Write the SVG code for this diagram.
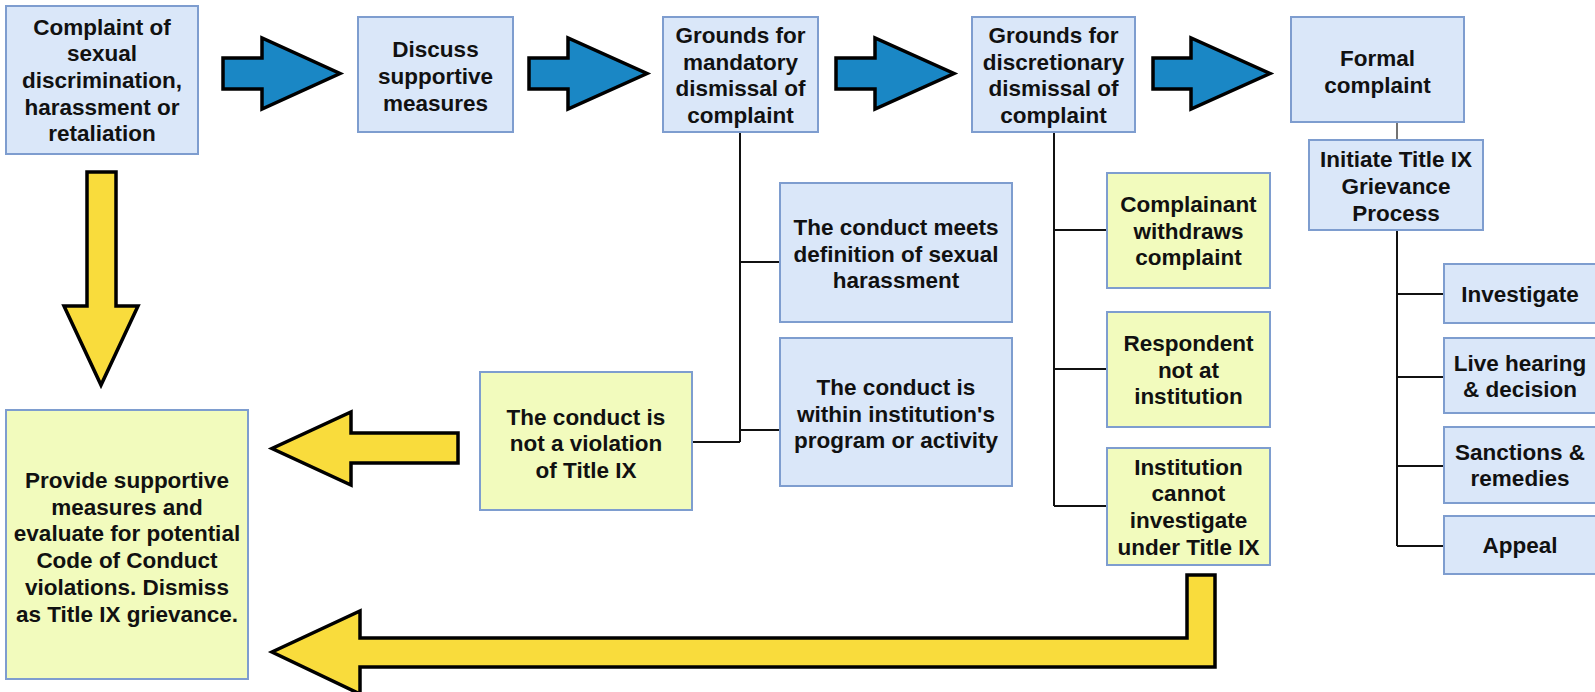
<svg xmlns="http://www.w3.org/2000/svg" width="1595" height="692" viewBox="0 0 1595 692">
<style>
.bg{fill:#ffffff}
.blue{fill:#dae7f9;stroke:#7e9dcf;stroke-width:2}
.yel{fill:#f2fbbd;stroke:#7e9dcf;stroke-width:2}
.t{font-family:"Liberation Sans",Arial,sans-serif;font-weight:bold;font-size:22.5px;fill:#111;text-anchor:middle}
.ln{stroke:#111;stroke-width:2;fill:none}
.ab{fill:#1a87c5;stroke:#000;stroke-width:3.5;stroke-linejoin:miter}
.ay{fill:#f9dc3c;stroke:#000;stroke-width:3.5;stroke-linejoin:miter}
</style>
<rect class="bg" x="0" y="0" width="1595" height="692"/>

<g id="connectors">
<path class="ln" d="M740,132 V442 M740,262 H780 M740,430 H780 M740,442 H692"/>
<path class="ln" d="M1054,133 V506 M1054,230 H1107 M1054,369 H1107 M1054,506 H1107"/>
<path class="ln" d="M1397,122 V140" style="stroke:#444;stroke-width:1.5"/>
<path class="ln" d="M1397,230 V546 M1397,294 H1444 M1397,377 H1444 M1397,466 H1444 M1397,546 H1444"/>
<path class="ab" d="M223,58 H262 V38 L340,73.5 L262,109 V89 H223 Z"/>
<path class="ab" d="M529,58 H568 V38 L647,73.5 L568,109 V89 H529 Z"/>
<path class="ab" d="M836,58 H875 V38 L954,73.5 L875,109 V89 H836 Z"/>
<path class="ab" d="M1153,58 H1191 V38 L1270,73.5 L1191,109 V89 H1153 Z"/>
<path class="ay" d="M87,172 H116 V306 H138 L101,385 L64,306 H87 Z"/>
<path class="ay" d="M458,433 V463 H351 V485 L272,448.5 L351,412 V433 Z"/>
<path class="ay" d="M1187,575 H1215 V667 H360 V694 L272,652 L360,611 V638 H1187 Z"/>
</g>

<g id="n-complaint"><rect class="blue" x="6" y="6" width="192" height="148"/>
<text class="t" x="102"><tspan x="102" y="34.6">Complaint of</tspan><tspan x="102" y="61.3">sexual</tspan><tspan x="102" y="88">discrimination,</tspan><tspan x="102" y="114.7">harassment or</tspan><tspan x="102" y="141.4">retaliation</tspan></text></g>

<g id="n-discuss"><rect class="blue" x="358" y="17" width="155" height="115"/>
<text class="t"><tspan x="435.5" y="57.3">Discuss</tspan><tspan x="435.5" y="84">supportive</tspan><tspan x="435.5" y="110.7">measures</tspan></text></g>

<g id="n-mandatory"><rect class="blue" x="663" y="17" width="155" height="115"/>
<text class="t"><tspan x="740.5" y="43">Grounds for</tspan><tspan x="740.5" y="69.7">mandatory</tspan><tspan x="740.5" y="96.4">dismissal of</tspan><tspan x="740.5" y="123.1">complaint</tspan></text></g>

<g id="n-discretionary"><rect class="blue" x="972" y="17" width="163" height="115"/>
<text class="t"><tspan x="1053.5" y="43">Grounds for</tspan><tspan x="1053.5" y="69.7">discretionary</tspan><tspan x="1053.5" y="96.4">dismissal of</tspan><tspan x="1053.5" y="123.1">complaint</tspan></text></g>

<g id="n-formal"><rect class="blue" x="1291" y="17" width="173" height="105"/>
<text class="t"><tspan x="1377.5" y="66">Formal</tspan><tspan x="1377.5" y="92.7">complaint</tspan></text></g>

<g id="n-initiate"><rect class="blue" x="1309" y="140" width="174" height="90"/>
<text class="t"><tspan x="1396" y="167.3">Initiate Title IX</tspan><tspan x="1396" y="194">Grievance</tspan><tspan x="1396" y="220.7">Process</tspan></text></g>

<g id="n-investigate"><rect class="blue" x="1444" y="264" width="154" height="59"/>
<text class="t" x="1520" y="301.5">Investigate</text></g>

<g id="n-hearing"><rect class="blue" x="1444" y="338" width="154" height="75"/>
<text class="t"><tspan x="1520" y="370.5">Live hearing</tspan><tspan x="1520" y="397.2">&amp; decision</tspan></text></g>

<g id="n-sanctions"><rect class="blue" x="1444" y="427" width="154" height="76"/>
<text class="t"><tspan x="1520" y="459.7">Sanctions &amp;</tspan><tspan x="1520" y="486.4">remedies</tspan></text></g>

<g id="n-appeal"><rect class="blue" x="1444" y="516" width="154" height="58"/>
<text class="t" x="1520" y="553">Appeal</text></g>

<g id="n-meets"><rect class="blue" x="780" y="183" width="232" height="139"/>
<text class="t"><tspan x="896" y="234.8">The conduct meets</tspan><tspan x="896" y="261.5">definition of sexual</tspan><tspan x="896" y="288.2">harassment</tspan></text></g>

<g id="n-within"><rect class="blue" x="780" y="338" width="232" height="148"/>
<text class="t"><tspan x="896" y="395">The conduct is</tspan><tspan x="896" y="421.7">within institution's</tspan><tspan x="896" y="448.4">program or activity</tspan></text></g>

<g id="n-notviolation"><rect class="yel" x="480" y="372" width="212" height="138"/>
<text class="t"><tspan x="586" y="424.5">The conduct is</tspan><tspan x="586" y="451.2">not a violation</tspan><tspan x="586" y="477.9">of Title IX</tspan></text></g>

<g id="n-withdraws"><rect class="yel" x="1107" y="173" width="163" height="115"/>
<text class="t"><tspan x="1188.5" y="211.8">Complainant</tspan><tspan x="1188.5" y="238.5">withdraws</tspan><tspan x="1188.5" y="265.2">complaint</tspan></text></g>

<g id="n-respondent"><rect class="yel" x="1107" y="312" width="163" height="115"/>
<text class="t"><tspan x="1188.5" y="350.8">Respondent</tspan><tspan x="1188.5" y="377.5">not at</tspan><tspan x="1188.5" y="404.2">institution</tspan></text></g>

<g id="n-cannot"><rect class="yel" x="1107" y="448" width="163" height="117"/>
<text class="t"><tspan x="1188.5" y="474.5">Institution</tspan><tspan x="1188.5" y="501.2">cannot</tspan><tspan x="1188.5" y="527.9">investigate</tspan><tspan x="1188.5" y="554.6">under Title IX</tspan></text></g>

<g id="n-provide"><rect class="yel" x="6" y="410" width="242" height="269"/>
<text class="t"><tspan x="127" y="488">Provide supportive</tspan><tspan x="127" y="514.7">measures and</tspan><tspan x="127" y="541.4">evaluate for potential</tspan><tspan x="127" y="568.1">Code of Conduct</tspan><tspan x="127" y="594.8">violations. Dismiss</tspan><tspan x="127" y="621.5">as Title IX grievance.</tspan></text></g>
</svg>
